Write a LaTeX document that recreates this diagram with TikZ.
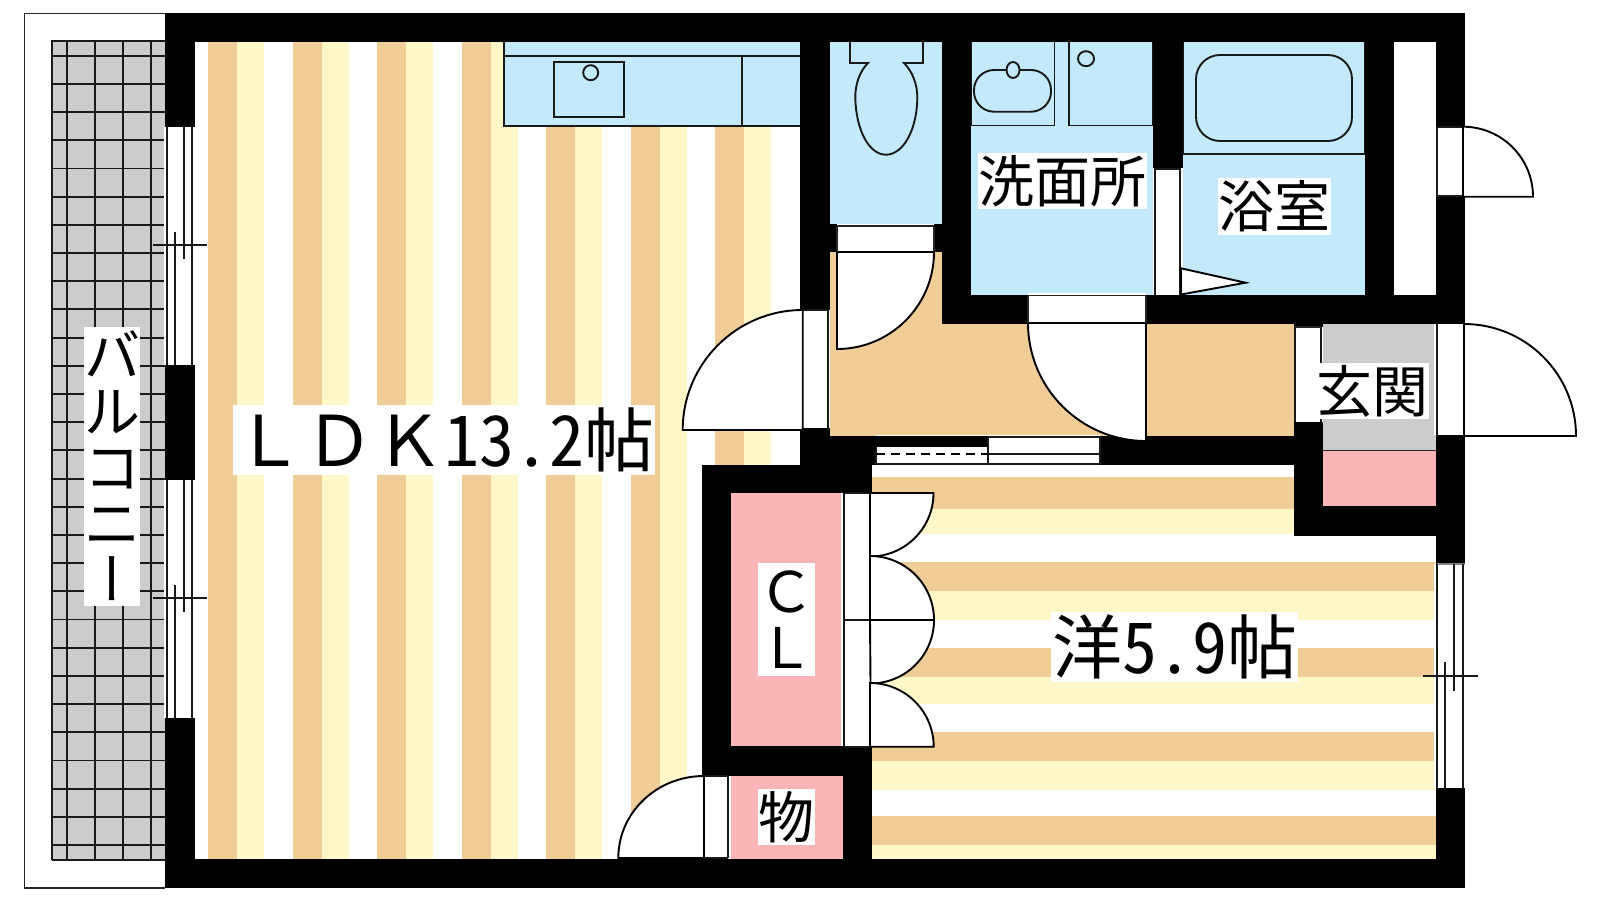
\documentclass[tikz,border=0pt]{standalone}
\usepackage{fontspec}
\newfontfamily\jp[RawFeature=+hwid]{Noto Sans CJK JP}
\newfontfamily\jpf{Noto Sans CJK JP}
\newfontfamily\jpv[RawFeature=+vert]{Noto Sans CJK JP}
\definecolor{tanf}{HTML}{F0CC96}
\definecolor{creamf}{HTML}{FEF8C8}
\definecolor{bluef}{HTML}{C3E9FB}
\definecolor{pinkf}{HTML}{FAB5B7}
\definecolor{grayf}{HTML}{CCCCCC}
\tikzset{
  ln/.style={draw=black!90,line width=1.9pt},
  thinln/.style={draw=black!85,line width=1.6pt},
  wall/.style={fill=black,draw=none},
  gap/.style={fill=white,draw=none},
  swing/.style={fill=white,draw=black,line width=1.9pt,line join=miter},
  lbl/.style={fill=white,inner sep=0pt,font=\jp\fontsize{56pt}{56pt}\selectfont,text=black,anchor=center},
  lblbig/.style={lbl,font=\jp\fontsize{70pt}{70pt}\selectfont}
}
\begin{document}
\begin{tikzpicture}[x=1pt,y=-1pt]
\useasboundingbox (0,0) rectangle (1600,900);
\fill[white] (0,0) rectangle (1600,900);
% balcony
\draw[thinln] (24.3,888) -- (24.3,13.3) -- (165,13.3);
\draw[thinln] (24.3,888) -- (165,888);
\fill[grayf] (52,40) rectangle (165,860);
\foreach \x in {52.3,67.3,95.3,123.3,151.3} \draw[ln] (\x,40) -- (\x,860);
\draw[ln] (52,41) -- (165,41);
\foreach \k in {0,...,28} \draw[ln] (52,{55.7+28.19*\k}) -- (165,{55.7+28.19*\k});
\draw[ln] (52,859.7) -- (165,859.7);
% LDK floor
\foreach \k in {0,...,6} {
  \fill[tanf] ({208+84.5*\k},42) rectangle ({237+84.5*\k},859);
  \fill[creamf] ({237+84.5*\k},42) rectangle ({264+84.5*\k},859);
}
% western room floor
\fill[white] (872,465) rectangle (1294,536);
\fill[tanf] (872,477) rectangle (1294,509);
\fill[creamf] (872,509) rectangle (1294,534);
\foreach \a/\b/\c in {562/591/620,648/677/704,732/761/789.6,816/845/859} {
  \fill[tanf] (872,\a) rectangle (1436,\b);
  \fill[creamf] (872,\b) rectangle (1436,\c);
}
% hall
\fill[tanf] (830,252) -- (942,252) -- (942,324) -- (1294,324) -- (1294,436) -- (830,436) -- cycle;
% wet rooms
\fill[bluef] (830,42) rectangle (942,224);
\fill[bluef] (971,42) rectangle (1153,295);
\fill[bluef] (1183,42) rectangle (1365,295);
\fill[bluef] (504,42) rectangle (800,126);
% genkan and closets
\fill[grayf] (1323,324) rectangle (1436,451);
\fill[pinkf] (1323,451) rectangle (1436,506);
\fill[pinkf] (731,493) rectangle (841,746);
\fill[pinkf] (731,776) rectangle (843,859);
% kitchen
\draw[ln] (504,42) -- (504,126) -- (800,126);
\draw[ln] (504,55.7) -- (800,55.7);
\draw[ln] (741.7,55.7) -- (741.7,126);
\draw[ln] (554,62.3) rectangle (624,116.7);
\draw[ln] (590.7,72.7) circle[radius=7.5];
% toilet
\draw[ln] (850,42) -- (850,63) -- (868,63) .. controls (860,71) and (855,84) .. (855.3,98)
  .. controls (856,130) and (869,154.7) .. (886,154.7)
  .. controls (903,154.7) and (917,130) .. (917.3,98)
  .. controls (917.5,84) and (912,71) .. (904,63) -- (923,63) -- (923,42);
% wash room fixtures
\draw[ln] (971,125.5) -- (1054.5,125.5) -- (1054.5,42);
\draw[ln] (1069,42) -- (1069,125.5) -- (1153,125.5);
\draw[ln] (971,42) -- (971,125.5);
\draw[ln,rounded corners=20pt] (974,70) rectangle (1051,111.7);
\filldraw[ln,fill=bluef] (1013,70) ellipse[x radius=6.5,y radius=8];
\draw[ln] (1086,58.7) ellipse[x radius=8,y radius=7.5];
\draw[ln] (1153,42) -- (1153,125.5);
% bath fixtures
\draw[ln] (1183,42) -- (1183,154) -- (1365,154) -- (1365,42);
\draw[ln,rounded corners=24pt] (1196,55) rectangle (1352,141);
% walls
\foreach \a/\b/\c/\d in {165/13/1465/42, 165/13/195/127, 165/365/195/480, 165/718/195/888,
  165/859/1465/888, 1436/13/1465/127, 1436/196/1465/324, 1436/435/1465/564, 1436/788/1465/888,
  800/42/830/310, 800/428/830/465, 830/224/942/252, 942/42/971/324, 942/295/1465/324,
  1153/42/1183/168, 1365/42/1394/295, 800/436/1294/465, 1294/324/1323/327, 1294/422/1323/536,
  1294/506/1436/536, 702/465/872/493, 702/493/731/859, 702/746/872/776, 843/776/872/859}
  \fill[wall] (\a,\b) rectangle (\c,\d);
% closet behind the bath
\fill[white] (1394,42) rectangle (1436,295);
% left windows
\foreach \t/\m/\b in {127/245.3/365, 480/598.3/718} {
  \fill[gap] (164,\t) rectangle (195,\b);
  \draw[ln] (167.3,\t) -- (167.3,\b);
  \draw[ln] (192.3,\t) -- (192.3,\b);
  \draw[ln] (175.3,{\m-13.6}) -- (175.3,\b);
  \draw[ln] (184.3,\t) -- (184.3,{\m+14});
  \draw[ln] (153.3,\m) -- (206.7,\m);
}
% right window
\fill[gap] (1434,564) rectangle (1465,788);
\draw[thinln,draw=black!50] (1437,564) -- (1465,564);
\draw[ln] (1437.3,564) -- (1437.3,788);
\draw[ln] (1463.3,564) -- (1463.3,788);
\draw[ln] (1445.3,662.3) -- (1445.3,788);
\draw[ln] (1454.3,564) -- (1454.3,690.7);
\draw[ln] (1423.3,676.3) -- (1477.7,676.3);
% toilet door
\fill[gap] (837,224) rectangle (934,252);
\draw[thinln] (837,226) -- (934,226);
\draw[swing] (837,252) -- (934,252) arc[start angle=0,end angle=90,radius=97] -- cycle;
\draw[thinln] (837,226) -- (837,252) (934,226) -- (934,252);
% LDK door
\fill[gap] (800,309.5) rectangle (830,428);
\draw[ln] (802.7,310) -- (828.3,310) -- (828.3,430);
\draw[swing] (802.7,430) -- (682.7,430) arc[start angle=180,end angle=270,radius=120] -- cycle;
% wash room door
\fill[gap] (1028,293) rectangle (1146,323);
\draw[thinln] (1028,295.5) -- (1146,295.5);
\draw[swing] (1146,323) -- (1146,441) arc[start angle=90,end angle=180,radius=118] -- cycle;
\draw[thinln] (1028,295.5) -- (1028,323) (1146,295.5) -- (1146,323);
% sliding door wash/bath
\fill[gap] (1153,168) rectangle (1183,295);
\draw[ln] (1154.8,295) -- (1154.8,169) -- (1180,169) -- (1180,295);
\filldraw[fill=white,draw=black,line width=1.9pt] (1181,268.3) -- (1245.5,282.7) -- (1181,294.5) -- cycle;
% sliding door hall/western room
\fill[gap] (876,447) rectangle (988,464);
\fill[gap] (988,437) rectangle (1100,464);
\draw[thinln,draw=white] (876,435.5) -- (1100,435.5);
\draw[ln] (876,464) -- (1100,464);
\draw[ln] (988,437) -- (1100,437) -- (1100,464);
\draw[ln] (988,437) -- (988,464);
\draw[line width=2pt,dash pattern=on 9pt off 6pt] (876,454.3) -- (988,454.3);
\draw[ln] (988,454.3) -- (1100,454.3);
\draw[ln] (876,447) -- (876,464);
% hall/genkan door
\fill[gap] (1294,327) rectangle (1322,422);
\draw[ln] (1295,327) -- (1295,422);
\draw[ln] (1321,327) -- (1321,422);
\draw[thinln] (1295,327) -- (1321,327);
\draw[thinln,draw=black!85] (1323,450.5) -- (1436,450.5);
% genkan door
\fill[gap] (1434,324) rectangle (1465,435);
\draw[ln] (1437,324) -- (1437,435);
\draw[swing] (1464,436) -- (1464,324) arc[start angle=270,end angle=360,radius=112] -- cycle;
% upper small door
\fill[gap] (1436,127) rectangle (1465,196);
\draw[ln] (1437,127) -- (1437,196) -- (1463,196);
\draw[ln] (1437,127) -- (1463,127);
\draw[swing] (1463,196.7) -- (1463,126.7) arc[start angle=270,end angle=360,radius=70] -- cycle;
% storage door
\fill[gap] (702,776) rectangle (731,859);
\draw[ln] (704,776) -- (728.3,776) -- (728.3,858);
\draw[swing] (704,858) -- (618.3,858) arc[start angle=180,end angle=270,x radius=85.7,y radius=82] -- cycle;
\draw[ln] (704,858) -- (728.3,858);
% closet folding doors
\fill[gap] (841,493) rectangle (872,746);
\draw[ln] (844.3,493) -- (844.3,746.7);
\draw[ln] (844.3,493) -- (870,493);
\draw[ln] (844.3,746.7) -- (870,746.7);
\draw[ln] (844.3,620) -- (870,620);
\draw[swing] (870,493) -- (933.5,493) arc[start angle=0,end angle=90,radius=63.5] -- cycle;
\draw[swing] (870,620) -- (870,556) arc[start angle=270,end angle=360,radius=64] -- cycle;
\draw[swing] (870,620) -- (934,620) arc[start angle=0,end angle=90,radius=63.5] -- cycle;
\draw[swing] (870,746.7) -- (870,683) arc[start angle=270,end angle=360,radius=63.7] -- cycle;
% labels
\node[lbl,minimum width=56pt,minimum height=279pt,align=center] (balc) at (112,466)
  {\fontsize{56pt}{56pt}\selectfont バ\\ル\\コ\\ニ\\{\jpv ー}};
\node[lblbig,minimum width=422pt,minimum height=69.5pt] (ldk) at (444,440) {{\jpf ＬＤＫ}13.2帖};
\node[lblbig,minimum width=247pt,minimum height=70pt] (yo) at (1174.5,647) {洋5.9帖};
\node[lbl,minimum width=169pt,minimum height=56pt] (wash) at (1062.5,181) {洗面所};
\node[lbl,minimum width=113pt,minimum height=56.7pt] (bath) at (1274.5,206.3) {浴室};
\node[lbl,minimum width=109pt,minimum height=56.6pt] (gen) at (1372.5,391) {玄関};
\node[lbl,minimum width=57pt,minimum height=112.7pt,align=center] (cl) at (786.5,619.3) {{\jpf Ｃ}\\{\jpf Ｌ}};
\node[lbl,minimum width=57pt,minimum height=56pt] (mono) at (786.5,817) {物};
\end{tikzpicture}
\end{document}
